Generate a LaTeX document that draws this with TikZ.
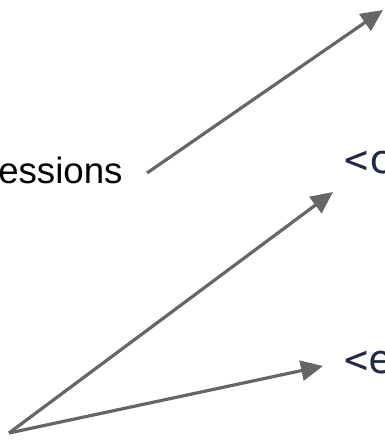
\documentclass[tikz,border=0pt]{standalone}
\usepackage{fontspec}
\setmainfont{Liberation Sans}
\newfontfamily\codefont{DejaVu Sans Mono}
\usetikzlibrary{arrows.meta}
\definecolor{arrowgray}{HTML}{666666}
\definecolor{codenavy}{HTML}{1F2A44}

\begin{document}
\begin{tikzpicture}[x=0.75pt,y=-0.75pt,
  ptr/.style={draw=arrowgray,line width=2.4pt,
    -{Triangle[length=16.5pt,width=15pt]}},
  label/.style={inner sep=0pt,anchor=base west,font=\fontsize{27.5}{32}\selectfont},
  code/.style={inner sep=0pt,anchor=base west,text=codenavy,
    font=\codefont\fontsize{30}{34}\selectfont}]
  \pgfmathsetmacro{\RowC}{173}
  \pgfmathsetmacro{\RowE}{373}
  \useasboundingbox (0,0) rectangle (385,440);
  \clip (0,0) rectangle (385,440);

  \node[label] (sess) at (-2,183) {essions};
  \node[code] (tagc) at (344,\RowC) {<c};
  \node[code] (tage) at (344,\RowE) {<e};

  \coordinate (from) at (147,173);
  \coordinate (top) at (383,10);
  \coordinate (root) at (9,433);
  \coordinate (tipc) at (333,192);
  \coordinate (tipe) at (323,366);

  \draw[ptr] (from) -- (top);
  \draw[ptr] (root) -- (tipc);
  \draw[ptr] (root) -- (tipe);
\end{tikzpicture}
\end{document}
